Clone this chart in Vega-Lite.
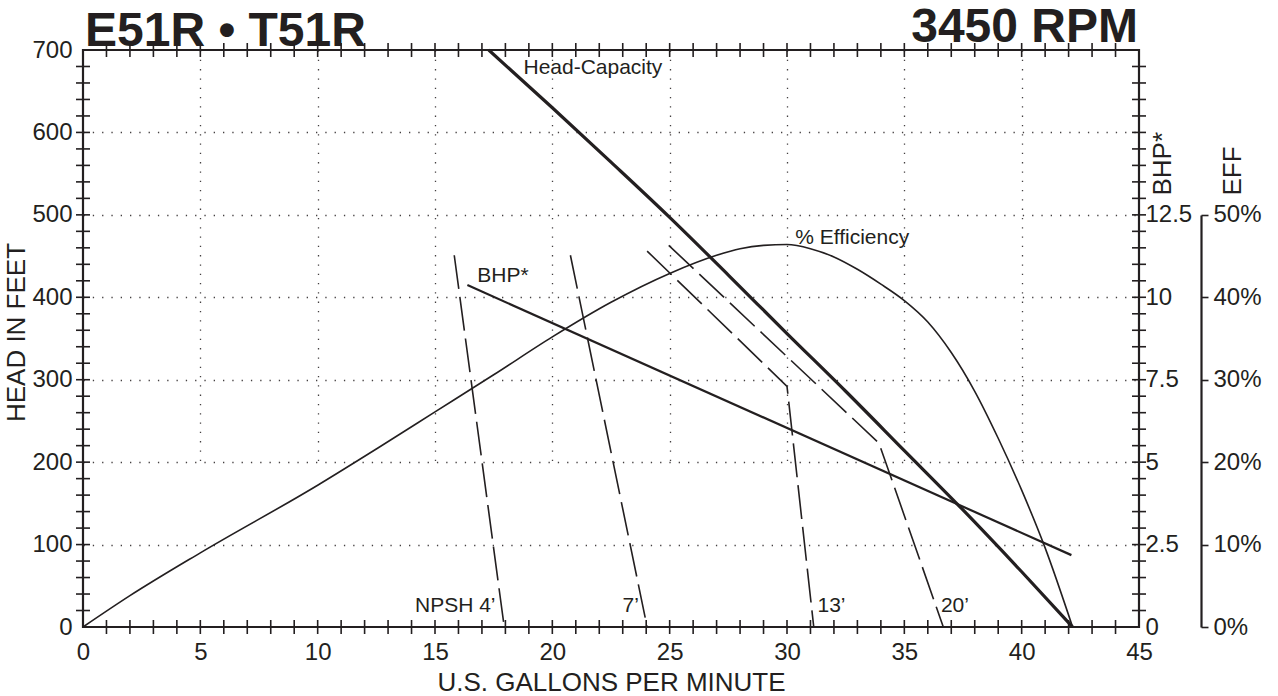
{
  "$schema": "https://vega.github.io/schema/vega-lite/v6.json",
  "width": 1056,
  "height": 577,
  "autosize": {"type": "none"},
  "padding": {"left": 83, "top": 50, "right": 139, "bottom": 69},
  "background": "white",
  "config": {
    "font": "Liberation Sans",
    "view": {"stroke": "#231f20", "strokeWidth": 2.2},
    "axis": {
      "labelFont": "Liberation Sans",
      "titleFont": "Liberation Sans",
      "labelColor": "#231f20",
      "titleColor": "#231f20",
      "tickColor": "#231f20",
      "domainColor": "#231f20",
      "labelFontSize": 24,
      "titleFontSize": 26,
      "titleFontWeight": "normal",
      "labelOverlap": false,
      "labelFlush": false,
      "tickWidth": 1.6,
      "gridColor": "#231f20",
      "gridOpacity": 0.85,
      "gridWidth": 1.3,
      "gridDash": [1.3, 8]
    }
  },
  "datasets": {
    "hc": [
      {"gpm": 17.29, "head": 700},
      {"gpm": 20, "head": 630},
      {"gpm": 22.5, "head": 564},
      {"gpm": 25, "head": 497},
      {"gpm": 27.5, "head": 427},
      {"gpm": 30, "head": 356},
      {"gpm": 32.5, "head": 286},
      {"gpm": 35, "head": 214},
      {"gpm": 37.5, "head": 142},
      {"gpm": 40, "head": 67},
      {"gpm": 42.17, "head": 0}
    ],
    "npsh": [
      {"series": "4", "gpm": 15.82, "head": 451},
      {"series": "4", "gpm": 17.95, "head": 0},
      {"series": "7", "gpm": 20.77, "head": 451},
      {"series": "7", "gpm": 24.04, "head": 0},
      {"series": "13", "gpm": 24.04, "head": 456},
      {"series": "13", "gpm": 30.0, "head": 292},
      {"series": "13", "gpm": 31.14, "head": 0},
      {"series": "20", "gpm": 24.96, "head": 463},
      {"series": "20", "gpm": 33.92, "head": 223},
      {"series": "20", "gpm": 36.66, "head": 0}
    ],
    "bhp": [
      {"gpm": 16.38, "bhp": 10.37},
      {"gpm": 42.12, "bhp": 2.18}
    ],
    "eff": [
      {"gpm": 0, "eff": 0},
      {"gpm": 2, "eff": 3.8},
      {"gpm": 5, "eff": 9.0},
      {"gpm": 10, "eff": 17.2},
      {"gpm": 12.5, "eff": 21.6},
      {"gpm": 15, "eff": 26.1},
      {"gpm": 17.5, "eff": 30.6},
      {"gpm": 20, "eff": 35.2},
      {"gpm": 22.5, "eff": 39.4},
      {"gpm": 25, "eff": 42.9},
      {"gpm": 27, "eff": 45.1},
      {"gpm": 28, "eff": 45.9},
      {"gpm": 29, "eff": 46.3},
      {"gpm": 30, "eff": 46.4},
      {"gpm": 31, "eff": 45.9},
      {"gpm": 32, "eff": 44.9},
      {"gpm": 33, "eff": 43.4},
      {"gpm": 34, "eff": 41.6},
      {"gpm": 35, "eff": 39.6},
      {"gpm": 36, "eff": 37.0},
      {"gpm": 37, "eff": 33.3},
      {"gpm": 38, "eff": 28.6},
      {"gpm": 39, "eff": 22.9},
      {"gpm": 40, "eff": 16.6},
      {"gpm": 41, "eff": 9.6},
      {"gpm": 42.17, "eff": 0}
    ],
    "xticks": [
      {"gpm": 1}, {"gpm": 2}, {"gpm": 3}, {"gpm": 4}, {"gpm": 5}, {"gpm": 6}, {"gpm": 7}, {"gpm": 8}, {"gpm": 9}, {"gpm": 10},
      {"gpm": 11}, {"gpm": 12}, {"gpm": 13}, {"gpm": 14}, {"gpm": 15}, {"gpm": 16}, {"gpm": 17}, {"gpm": 18}, {"gpm": 19}, {"gpm": 20},
      {"gpm": 21}, {"gpm": 22}, {"gpm": 23}, {"gpm": 24}, {"gpm": 25}, {"gpm": 26}, {"gpm": 27}, {"gpm": 28}, {"gpm": 29}, {"gpm": 30},
      {"gpm": 31}, {"gpm": 32}, {"gpm": 33}, {"gpm": 34}, {"gpm": 35}, {"gpm": 36}, {"gpm": 37}, {"gpm": 38}, {"gpm": 39}, {"gpm": 40},
      {"gpm": 41}, {"gpm": 42}, {"gpm": 43}, {"gpm": 44}
    ],
    "yticks": [
      {"head": 20}, {"head": 40}, {"head": 60}, {"head": 80}, {"head": 100}, {"head": 120}, {"head": 140}, {"head": 160}, {"head": 180},
      {"head": 200}, {"head": 220}, {"head": 240}, {"head": 260}, {"head": 280}, {"head": 300}, {"head": 320}, {"head": 340}, {"head": 360},
      {"head": 380}, {"head": 400}, {"head": 420}, {"head": 440}, {"head": 460}, {"head": 480}, {"head": 500}, {"head": 520}, {"head": 540},
      {"head": 560}, {"head": 580}, {"head": 600}, {"head": 620}, {"head": 640}, {"head": 660}, {"head": 680}
    ],
    "labelsLeft": [
      {"label": "Head-Capacity", "gpm": 18.77, "head": 671},
      {"label": "% Efficiency", "gpm": 30.35, "head": 465},
      {"label": "BHP*", "gpm": 16.8, "head": 418},
      {"label": "13’", "gpm": 31.3, "head": 18},
      {"label": "20’", "gpm": 36.56, "head": 18}
    ],
    "labelsRight": [
      {"label": "NPSH 4’", "gpm": 17.58, "head": 18},
      {"label": "7’", "gpm": 23.69, "head": 18}
    ],
    "titleLeft": [{"label": "E51R • T51R", "gpm": 0, "head": 700}],
    "titleRight": [{"label": "3450 RPM", "gpm": 45, "head": 700}]
  },
  "resolve": {"scale": {"y": "independent"}, "axis": {"x": "independent", "y": "independent"}},
  "layer": [
    {
      "data": {"name": "hc"},
      "mark": {"type": "line", "color": "#231f20", "strokeWidth": 3.2, "interpolate": "monotone"},
      "encoding": {
        "x": {
          "field": "gpm", "type": "quantitative",
          "scale": {"domain": [0, 45], "nice": false, "zero": false},
          "axis": {
            "orient": "bottom",
            "values": [0, 5, 10, 15, 20, 25, 30, 35, 40, 45],
            "ticks": false,
            "labelPadding": 13,
            "domain": false,
            "grid": false,
            "title": "U.S. GALLONS PER MINUTE",
            "titleY": 63,
            "titleBaseline": "alphabetic"
          }
        },
        "y": {
          "field": "head", "type": "quantitative",
          "scale": {"domain": [0, 700], "nice": false, "zero": false},
          "axis": {
            "orient": "left",
            "values": [0, 100, 200, 300, 400, 500, 600, 700],
            "ticks": false,
            "labelPadding": 11,
            "domain": false,
            "grid": false,
            "title": "HEAD IN FEET",
            "titleX": -67,
            "titleY": 282,
            "titleAngle": -90,
            "titleAlign": "center",
            "titleBaseline": "middle"
          }
        }
      }
    },
    {
      "data": {"name": "npsh"},
      "mark": {"type": "line", "color": "#231f20", "strokeWidth": 1.6, "strokeDash": [34, 8]},
      "encoding": {
        "x": {"field": "gpm", "type": "quantitative", "scale": {"domain": [0, 45], "nice": false, "zero": false}, "axis": null},
        "y": {"field": "head", "type": "quantitative", "scale": {"domain": [0, 700], "nice": false, "zero": false}, "axis": null},
        "detail": {"field": "series", "type": "nominal"}
      }
    },
    {
      "data": {"name": "bhp"},
      "mark": {"type": "line", "color": "#231f20", "strokeWidth": 2.2},
      "encoding": {
        "x": {"field": "gpm", "type": "quantitative", "scale": {"domain": [0, 45], "nice": false, "zero": false}, "axis": null},
        "y": {
          "field": "bhp", "type": "quantitative",
          "scale": {"domain": [0, 17.5], "nice": false, "zero": false},
          "axis": {
            "orient": "right",
            "values": [0, 2.5, 5, 7.5, 10, 12.5],
            "labelExpr": "datum.value + ''",
            "ticks": false,
            "labelPadding": 6,
            "domain": false,
            "grid": false,
            "title": "BHP*",
            "titleAngle": -90,
            "titleX": 23,
            "titleY": 145,
            "titleAlign": "left",
            "titleBaseline": "middle"
          }
        }
      }
    },
    {
      "data": {"name": "eff"},
      "mark": {"type": "line", "color": "#231f20", "strokeWidth": 1.6, "interpolate": "monotone"},
      "encoding": {
        "x": {
          "field": "gpm", "type": "quantitative",
          "scale": {"domain": [0, 45], "nice": false, "zero": false},
          "axis": {
            "orient": "bottom",
            "values": [5, 10, 15, 20, 25, 30, 35, 40],
            "labels": false,
            "ticks": false,
            "domain": false,
            "grid": true,
            "title": null
          }
        },
        "y": {
          "field": "eff", "type": "quantitative",
          "scale": {"domain": [0, 50], "range": [577, 164.9], "nice": false, "zero": false},
          "axis": {
            "orient": "right",
            "offset": 62,
            "values": [0, 10, 20, 30, 40, 50],
            "labelExpr": "datum.value + '%'",
            "tickSize": 7,
            "labelPadding": 5,
            "domain": true,
            "domainWidth": 2.2,
            "grid": false,
            "title": "EFF",
            "titleAngle": -90,
            "titleX": 31.5,
            "titleY": 145,
            "titleAlign": "left",
            "titleBaseline": "middle"
          }
        }
      }
    },
    {
      "data": {"name": "xticks"},
      "mark": {"type": "tick", "orient": "vertical", "color": "#231f20", "opacity": 1, "size": 14, "thickness": 1.6},
      "encoding": {
        "x": {"field": "gpm", "type": "quantitative", "scale": {"domain": [0, 45], "nice": false, "zero": false}, "axis": null},
        "y": {"datum": 0, "type": "quantitative", "scale": {"domain": [0, 700], "nice": false, "zero": false}, "axis": null}
      }
    },
    {
      "data": {"name": "xticks"},
      "mark": {"type": "tick", "orient": "vertical", "color": "#231f20", "opacity": 1, "size": 14, "thickness": 1.6},
      "encoding": {
        "x": {"field": "gpm", "type": "quantitative", "scale": {"domain": [0, 45], "nice": false, "zero": false}, "axis": null},
        "y": {"datum": 700, "type": "quantitative", "scale": {"domain": [0, 700], "nice": false, "zero": false}, "axis": null}
      }
    },
    {
      "data": {"name": "yticks"},
      "mark": {"type": "tick", "orient": "horizontal", "color": "#231f20", "opacity": 1, "size": 14, "thickness": 1.6},
      "encoding": {
        "y": {"field": "head", "type": "quantitative", "scale": {"domain": [0, 700], "nice": false, "zero": false}, "axis": null},
        "x": {"datum": 0, "type": "quantitative", "scale": {"domain": [0, 45], "nice": false, "zero": false}, "axis": null}
      }
    },
    {
      "data": {"name": "yticks"},
      "mark": {"type": "tick", "orient": "horizontal", "color": "#231f20", "opacity": 1, "size": 14, "thickness": 1.6},
      "encoding": {
        "y": {"field": "head", "type": "quantitative", "scale": {"domain": [0, 700], "nice": false, "zero": false}, "axis": null},
        "x": {"datum": 45, "type": "quantitative", "scale": {"domain": [0, 45], "nice": false, "zero": false}, "axis": null}
      }
    },
    {
      "data": {"name": "labelsLeft"},
      "mark": {"type": "text", "align": "left", "baseline": "alphabetic", "fontSize": 21, "color": "#231f20", "font": "Liberation Sans"},
      "encoding": {
        "x": {"field": "gpm", "type": "quantitative", "scale": {"domain": [0, 45], "nice": false, "zero": false}, "axis": null},
        "y": {
          "field": "head", "type": "quantitative",
          "scale": {"domain": [0, 700], "nice": false, "zero": false},
          "axis": {
            "orient": "left",
            "values": [100, 200, 300, 400, 500, 600],
            "labels": false,
            "ticks": false,
            "domain": false,
            "grid": true,
            "title": null
          }
        },
        "text": {"field": "label"}
      }
    },
    {
      "data": {"name": "labelsRight"},
      "mark": {"type": "text", "align": "right", "baseline": "alphabetic", "fontSize": 21, "color": "#231f20", "font": "Liberation Sans"},
      "encoding": {
        "x": {"field": "gpm", "type": "quantitative", "scale": {"domain": [0, 45], "nice": false, "zero": false}, "axis": null},
        "y": {"field": "head", "type": "quantitative", "scale": {"domain": [0, 700], "nice": false, "zero": false}, "axis": null},
        "text": {"field": "label"}
      }
    },
    {
      "data": {"name": "titleLeft"},
      "mark": {"type": "text", "align": "left", "baseline": "alphabetic", "fontSize": 48, "fontWeight": "bold", "dx": 2, "dy": -4, "color": "#231f20", "font": "Liberation Sans"},
      "encoding": {
        "x": {"field": "gpm", "type": "quantitative", "scale": {"domain": [0, 45], "nice": false, "zero": false}, "axis": null},
        "y": {"field": "head", "type": "quantitative", "scale": {"domain": [0, 700], "nice": false, "zero": false}, "axis": null},
        "text": {"field": "label"}
      }
    },
    {
      "data": {"name": "titleRight"},
      "mark": {"type": "text", "align": "right", "baseline": "alphabetic", "fontSize": 48, "fontWeight": "bold", "dx": -1, "dy": -8, "color": "#231f20", "font": "Liberation Sans"},
      "encoding": {
        "x": {"field": "gpm", "type": "quantitative", "scale": {"domain": [0, 45], "nice": false, "zero": false}, "axis": null},
        "y": {"field": "head", "type": "quantitative", "scale": {"domain": [0, 700], "nice": false, "zero": false}, "axis": null},
        "text": {"field": "label"}
      }
    }
  ]
}
